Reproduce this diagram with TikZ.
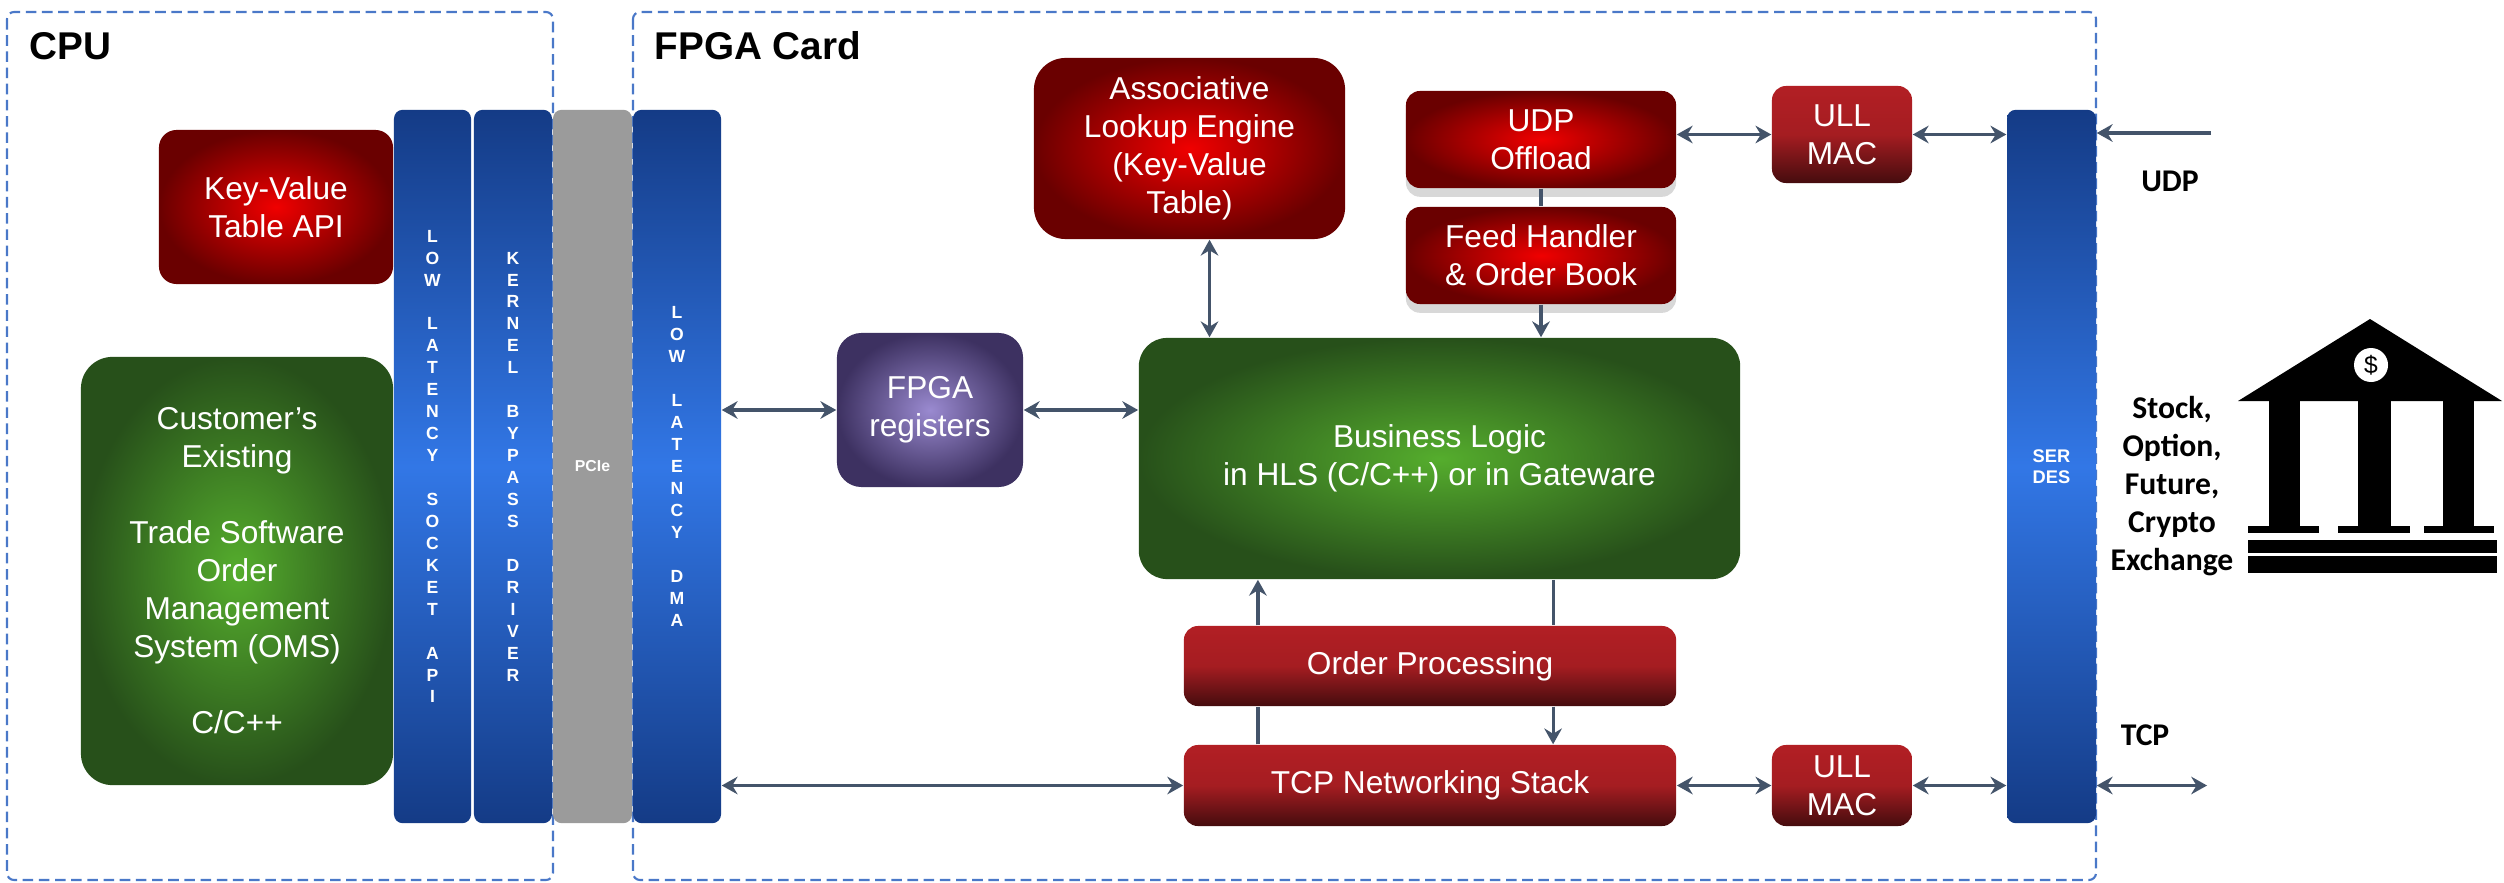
\documentclass[tikz,border=0pt]{standalone}
\usepackage{fontspec}
\setmainfont{Liberation Sans}
\newfontfamily\calfont{Carlito}
\usetikzlibrary{arrows.meta,shadows}
\definecolor{redin}{HTML}{F00000}
\definecolor{redout}{HTML}{6A0000}
\definecolor{greenin}{HTML}{55AD2D}
\definecolor{greenout}{HTML}{27501A}
\definecolor{purplein}{HTML}{9A8AD0}
\definecolor{purpleout}{HTML}{3D3161}
\definecolor{bartop}{HTML}{B21F24}
\definecolor{barbot}{HTML}{450C0E}
\definecolor{coltop}{HTML}{143B86}
\definecolor{colmid}{HTML}{3277E6}
\definecolor{pciegray}{HTML}{9B9B9B}
\definecolor{dashblue}{HTML}{4A78C8}
\definecolor{linkgray}{HTML}{44546A}
\tikzstyle{blockbox} = [rounded corners=4pt, text=white, align=center, inner sep=0pt,
    font=\fontsize{9}{10.8}\selectfont]
\tikzstyle{redbox} = [blockbox, inner color=redin, outer color=redout]
\tikzstyle{greenbox} = [blockbox, inner color=greenin, outer color=greenout]
\tikzstyle{purplebox} = [blockbox, inner color=purplein, outer color=purpleout]
\tikzstyle{darkredbox} = [blockbox, top color=bartop, bottom color=barbot, middle color=bartop!88!barbot]
\tikzstyle{layerbar} = [rounded corners=2.5pt, inner sep=0pt, text=white, align=center,
    font=\bfseries\fontsize{5}{6.24}\selectfont, top color=coltop, bottom color=coltop, middle color=colmid]
\tikzstyle{cardframe} = [draw=dashblue, line width=0.6pt, dash pattern=on 3pt off 1.6pt, rounded corners=2pt]
\tikzstyle{cardtitle} = [font=\bfseries\fontsize{11}{13}\selectfont, inner sep=0pt]
\tikzstyle{extlabel} = [font=\calfont\bfseries\fontsize{9}{10.8}\selectfont, align=center, inner sep=0pt]
\tikzstyle{softshadow} = [drop shadow={shadow xshift=0pt, shadow yshift=-2.5pt, opacity=0.3}]
\tikzstyle{link} = [draw=linkgray, line width=0.9pt]
\tikzset{>={Stealth[length=4.5pt,width=5pt,inset=1.5pt]}}

\begin{document}
\begin{tikzpicture}[x=0.01cm,y=-0.01cm]
    \useasboundingbox (0,0) rectangle (2504,882);
    \fill[white] (0,0) rectangle (2504,882);
    \draw[cardframe] (7,12) rectangle (553,880);
    \draw[cardframe] (633,12) rectangle (2096,880);
    \node[cardtitle, anchor=base west] (cputitle) at (29,60) {CPU};
    \node[cardtitle, anchor=base west] (fpgatitle) at (654,60) {FPGA Card};

    \node[redbox, rounded corners=5pt, minimum width=2.34cm, minimum height=1.54cm] (kvapi) at (276,207) {Key-Value\\Table API};
    \node[greenbox, rounded corners=9pt, minimum width=3.12cm, minimum height=4.28cm] (oms) at (237,571)
        {Customer’s\\Existing\\[10.8pt]Trade Software\\Order\\Management\\System (OMS)\\[10.8pt]C/C++};
    \node[layerbar, minimum width=0.77cm, minimum height=7.13cm] (sockapi) at (432.5,466.5)
        {L\\O\\W\\[6.24pt]L\\A\\T\\E\\N\\C\\Y\\[6.24pt]S\\O\\C\\K\\E\\T\\[6.24pt]A\\P\\I};
    \node[layerbar, minimum width=0.78cm, minimum height=7.13cm] (bypass) at (513,466.5)
        {K\\E\\R\\N\\E\\L\\[6.24pt]B\\Y\\P\\A\\S\\S\\[6.24pt]D\\R\\I\\V\\E\\R};
    \node[fill=pciegray, rounded corners=2.5pt, inner sep=0pt, minimum width=0.79cm, minimum height=7.13cm,
        text=white, font=\bfseries\fontsize{4.5}{5}\selectfont] (pcie) at (592.5,466.5) {PCIe};
    \node[layerbar, minimum width=0.88cm, minimum height=7.13cm] (dma) at (677,466.5)
        {L\\O\\W\\[6.24pt]L\\A\\T\\E\\N\\C\\Y\\[6.24pt]D\\M\\A};

    \node[purplebox, rounded corners=7pt, minimum width=1.86cm, minimum height=1.54cm] (fpgareg) at (930,410) {FPGA\\registers};
    \node[redbox, rounded corners=9pt, minimum width=3.11cm, minimum height=1.81cm] (assoc) at (1189.5,148.5)
        {Associative\\Lookup Engine\\(Key-Value\\Table)};
    \node[redbox, softshadow, minimum width=2.70cm, minimum height=0.97cm] (udpoff) at (1541,139.5) {UDP\\Offload};
    \node[redbox, softshadow, minimum width=2.70cm, minimum height=0.97cm] (feed) at (1541,255.5) {Feed Handler\\\& Order Book};
    \node[darkredbox, minimum width=1.40cm, minimum height=0.97cm] (macudp) at (1842,134.5) {ULL\\MAC};
    \node[greenbox, rounded corners=8pt, minimum width=6.01cm, minimum height=2.41cm] (logic) at (1439.5,458.5)
        {Business Logic\\in HLS (C/C++) or in Gateware};
    \node[darkredbox, minimum width=4.92cm, minimum height=0.80cm] (orderproc) at (1430,666) {Order Processing};
    \node[darkredbox, minimum width=4.92cm, minimum height=0.81cm] (tcpstack) at (1430,785.5) {TCP Networking Stack};
    \node[darkredbox, minimum width=1.40cm, minimum height=0.81cm] (mactcp) at (1842,785.5) {ULL\\MAC};
    \node[layerbar, minimum width=0.89cm, minimum height=7.13cm, font=\bfseries\fontsize{5.2}{6}\selectfont] (serdes) at (2051.5,466.5) {SER\\DES};

    \draw[link, <->] (fpgareg.west -| dma.east) -- (fpgareg.west);
    \draw[link, <->] (fpgareg.east) -- (fpgareg.east -| logic.west);
    \draw[link, <->] (tcpstack.west -| dma.east) -- (tcpstack.west);
    \draw[link, line width=0.7pt, <->] ([xshift=0.2cm]assoc.south) -- ([xshift=0.2cm]assoc.south |- logic.north);
    \draw[link] (udpoff.south) -- (feed.north);
    \draw[link, ->] (feed.south) -- (feed.south |- logic.north);
    \draw[link, <->] (macudp.west -| udpoff.east) -- (macudp.west);
    \draw[link, <->] (macudp.east) -- (macudp.east -| serdes.west);
    \draw[link, <->] (tcpstack.east) -- (mactcp.west);
    \draw[link, <->] (mactcp.east) -- (mactcp.east -| serdes.west);
    \draw[link] ([xshift=-1.72cm]tcpstack.north) -- ([xshift=-1.72cm]orderproc.south);
    \draw[link, ->] ([xshift=-1.72cm]orderproc.north) -- ([xshift=-1.72cm]orderproc.north |- logic.south);
    \draw[link] ([xshift=1.23cm]orderproc.north |- logic.south) -- ([xshift=1.23cm]orderproc.north);
    \draw[link, ->] ([xshift=1.23cm]orderproc.south) -- ([xshift=1.23cm]tcpstack.north);

    \coordinate (udpin) at (2211,133);
    \coordinate (tcpout) at (2207,785.5);
    \draw[link, ->] (udpin) -- (udpin -| serdes.east);
    \draw[link, <->] (tcpout -| serdes.east) -- (tcpout);
    \node[extlabel] (udplbl) at (2170,181) {UDP};
    \node[extlabel] (tcplbl) at (2145,735) {TCP};
    \node[extlabel] (exch) at (2172,486) {Stock,\\Option,\\Future,\\Crypto\\Exchange};

    \fill[black] (2238,401) -- (2370,319) -- (2502,401) -- cycle;
    \fill[white] (2371,365) circle (17);
    \node[inner sep=0pt, font=\fontsize{7}{8}\selectfont] (coin) at (2371,365) {\$};
    \fill[black] (2269,401) rectangle (2300,526);
    \fill[black] (2358,401) rectangle (2391,526);
    \fill[black] (2443,401) rectangle (2474,526);
    \fill[black] (2248,526) rectangle (2319,533);
    \fill[black] (2338,526) rectangle (2410,533);
    \fill[black] (2424,526) rectangle (2494,533);
    \fill[black] (2248,540) rectangle (2497,553);
    \fill[black] (2248,556) rectangle (2497,573);
\end{tikzpicture}
\end{document}
